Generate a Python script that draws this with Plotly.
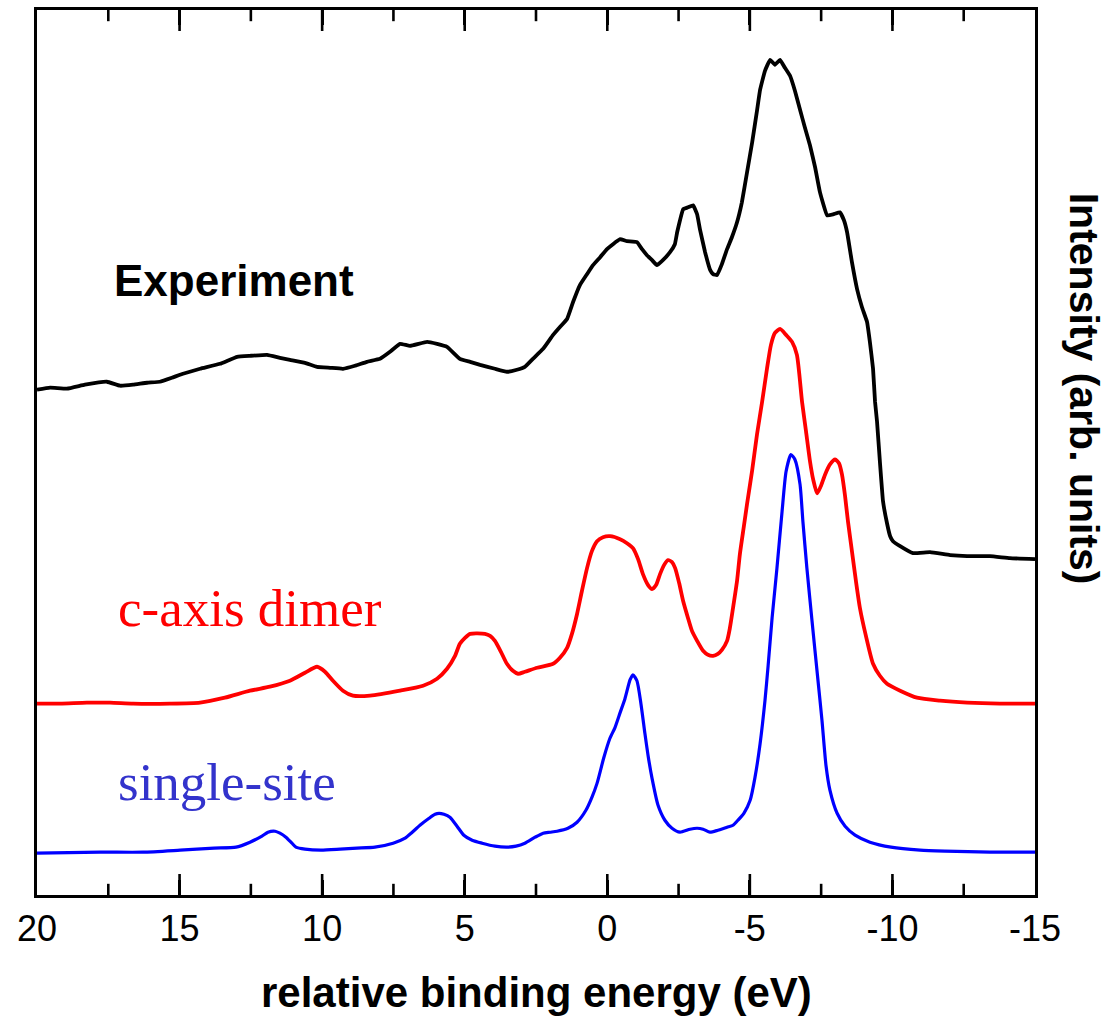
import plotly.graph_objects as go

# ---------------- data (energy in eV, intensity in arb. units) ----------------
exp_energy = [20.00, 19.54, 18.95, 18.32, 17.55, 17.09, 16.63, 16.14, 15.69, 15.27,
              14.88, 14.28, 13.58, 12.98, 12.53, 11.93, 11.48, 11.13, 10.60, 10.18,
              9.72, 9.27, 8.85, 8.43, 7.97, 7.62, 7.27, 6.92, 6.32, 5.97,
              5.62, 5.17, 4.81, 4.46, 3.94, 3.52, 3.17, 2.89, 2.61, 2.25,
              1.90, 1.66, 1.41, 1.20, 0.96, 0.71, 0.50, 0.25, 0.01, -0.20,
              -0.45, -0.69, -1.04, -1.22, -1.39, -1.57, -1.74, -1.95, -2.20, -2.37,
              -2.45, -2.55, -2.66, -2.83, -3.01, -3.15, -3.25, -3.43, -3.61, -3.71,
              -3.85, -4.02, -4.20, -4.37, -4.55, -4.72, -4.90, -5.08, -5.25, -5.36,
              -5.53, -5.71, -5.88, -6.06, -6.23, -6.41, -6.58, -6.76, -6.93, -7.11,
              -7.29, -7.46, -7.71, -7.92, -8.16, -8.30, -8.41, -8.58, -8.76, -8.93,
              -9.11, -9.21, -9.32, -9.39, -9.46, -9.56, -9.67, -9.81, -9.92, -10.02,
              -10.27, -10.72, -11.32, -12.02, -12.62, -13.42, -14.12, -15.00]
exp_intensity = [5.07, 5.09, 5.08, 5.12, 5.15, 5.11, 5.12, 5.14, 5.15, 5.19,
                 5.23, 5.28, 5.33, 5.40, 5.41, 5.42, 5.39, 5.37, 5.34, 5.30,
                 5.29, 5.28, 5.31, 5.35, 5.38, 5.45, 5.53, 5.51, 5.55, 5.53,
                 5.50, 5.38, 5.35, 5.32, 5.28, 5.25, 5.27, 5.30, 5.38, 5.48,
                 5.62, 5.70, 5.78, 5.95, 6.12, 6.23, 6.32, 6.40, 6.48, 6.53,
                 6.58, 6.56, 6.55, 6.48, 6.42, 6.37, 6.32, 6.37, 6.45, 6.53,
                 6.65, 6.77, 6.88, 6.90, 6.92, 6.83, 6.68, 6.45, 6.27, 6.23,
                 6.22, 6.33, 6.48, 6.60, 6.75, 6.95, 7.25, 7.55, 7.87, 8.08,
                 8.27, 8.38, 8.33, 8.38, 8.30, 8.22, 8.07, 7.88, 7.70, 7.52,
                 7.30, 7.05, 6.82, 6.83, 6.85, 6.77, 6.65, 6.35, 6.08, 5.90,
                 5.75, 5.55, 5.28, 4.95, 4.75, 4.35, 3.95, 3.73, 3.60, 3.55,
                 3.50, 3.43, 3.44, 3.41, 3.40, 3.40, 3.38, 3.37]

dimer_energy = [20.00, 19.19, 18.25, 17.44, 16.63, 15.34, 14.28, 13.41, 12.53, 11.83,
                11.13, 10.60, 10.18, 9.90, 9.62, 9.27, 8.92, 8.32, 7.27, 6.46,
                5.97, 5.62, 5.34, 5.17, 4.99, 4.81, 4.29, 4.11, 3.94, 3.73,
                3.52, 3.31, 3.13, 2.89, 2.46, 1.90, 1.66, 1.41, 1.24, 1.06,
                0.89, 0.71, 0.54, 0.36, 0.15, -0.10, -0.45, -0.69, -0.90, -1.08,
                -1.25, -1.43, -1.57, -1.71, -1.85, -1.99, -2.13, -2.27, -2.38, -2.52,
                -2.66, -2.83, -2.97, -3.15, -3.36, -3.53, -3.71, -3.88, -4.02, -4.20,
                -4.30, -4.41, -4.55, -4.65, -4.79, -4.90, -5.08, -5.25, -5.43, -5.60,
                -5.74, -5.88, -6.06, -6.27, -6.48, -6.65, -6.83, -6.97, -7.11,
                -7.22, -7.36, -7.50, -7.64, -7.81, -7.99, -8.13, -8.23, -8.34, -8.44,
                -8.58, -8.72, -8.86, -9.07, -9.32, -9.56, -9.81, -10.27, -10.86, -11.67,
                -12.62, -13.77, -15.00]
dimer_intensity = [1.92, 1.92, 1.93, 1.93, 1.92, 1.92, 1.93, 1.98, 2.05, 2.09,
                   2.15, 2.23, 2.29, 2.24, 2.15, 2.05, 2.00, 2.00, 2.05, 2.10,
                   2.17, 2.27, 2.40, 2.52, 2.58, 2.62, 2.62, 2.60, 2.55, 2.44,
                   2.32, 2.25, 2.22, 2.24, 2.28, 2.32, 2.38, 2.48, 2.62, 2.82,
                   3.05, 3.28, 3.45, 3.55, 3.59, 3.60, 3.57, 3.53, 3.48, 3.37,
                   3.22, 3.11, 3.07, 3.11, 3.22, 3.31, 3.36, 3.34, 3.28, 3.13,
                   2.95, 2.78, 2.65, 2.55, 2.45, 2.41, 2.40, 2.42, 2.46, 2.55,
                   2.68, 2.88, 3.15, 3.42, 3.70, 3.92, 4.26, 4.62, 4.95, 5.28,
                   5.52, 5.64, 5.68, 5.62, 5.55, 5.42, 4.95, 4.65, 4.35,
                   4.17, 4.03, 4.11, 4.22, 4.32, 4.37, 4.33, 4.22, 4.00, 3.75,
                   3.45, 3.15, 2.88, 2.60, 2.32, 2.20, 2.12, 2.05, 1.98, 1.95,
                   1.93, 1.92, 1.92]

single_energy = [20.00, 17.79, 16.28, 14.98, 13.79, 13.02, 12.53, 12.11, 11.90, 11.65,
                 11.48, 11.27, 11.06, 10.92, 10.60, 10.04, 9.37, 8.78, 8.15, 7.51,
                 7.09, 6.88, 6.57, 6.25, 6.04, 5.90, 5.73, 5.52, 5.27, 5.03,
                 4.74, 4.39, 3.94, 3.52, 3.20, 2.89, 2.53, 2.25, 2.01, 1.76,
                 1.38, 1.06, 0.75, 0.54, 0.36, 0.12, -0.09, -0.27, -0.45, -0.62,
                 -0.80, -0.90, -1.04, -1.18, -1.32, -1.43, -1.57, -1.78, -2.02, -2.27,
                 -2.55, -2.90, -3.15, -3.36, -3.60, -3.88, -4.20, -4.41, -4.58, -4.79,
                 -5.01, -5.18, -5.36, -5.53, -5.64, -5.78, -5.95, -6.13, -6.27, -6.44,
                 -6.58, -6.76, -6.86, -7.00, -7.18, -7.39, -7.53, -7.67, -7.81, -8.06,
                 -8.34, -8.69, -9.21, -9.95, -10.97, -11.84, -13.42, -15.00]
single_intensity = [0.42, 0.43, 0.43, 0.45, 0.47, 0.48, 0.53, 0.59, 0.63, 0.64,
                    0.62, 0.58, 0.52, 0.48, 0.46, 0.45, 0.46, 0.47, 0.48, 0.52,
                    0.57, 0.62, 0.70, 0.77, 0.81, 0.82, 0.81, 0.78, 0.69, 0.60,
                    0.55, 0.52, 0.49, 0.48, 0.49, 0.52, 0.58, 0.62, 0.63, 0.64,
                    0.67, 0.73, 0.85, 0.98, 1.12, 1.38, 1.57, 1.68, 1.83, 1.97,
                    2.16, 2.21, 2.15, 1.92, 1.62, 1.40, 1.17, 0.90, 0.75, 0.67,
                    0.63, 0.66, 0.67, 0.66, 0.63, 0.65, 0.68, 0.70, 0.75, 0.82,
                    0.95, 1.18, 1.52, 1.95, 2.30, 2.78, 3.28, 3.85, 4.25, 4.42,
                    4.37, 4.12, 3.75, 3.28, 2.75, 2.15, 1.75, 1.30, 1.05, 0.82,
                    0.69, 0.60, 0.53, 0.48, 0.45, 0.44, 0.43, 0.43]

x_tick_values = [20, 15, 10, 5, 0, -5, -10, -15]
x_tick_labels = ["20", "15", "10", "5", "0", "-5", "-10", "-15"]
x_inner_major = [15, 10, 5, 0, -5, -10]
x_minor_ticks = [17.5, 12.5, 7.5, 2.5, -2.5, -7.5, -12.5]

# ---------------- figure ----------------
L, R, T, B = 37, 78, 7, 125
Y_MAX = 8.88

fig = go.Figure()

fig.add_trace(go.Scatter(x=exp_energy, y=exp_intensity, mode="lines",
                         line=dict(color="black", width=3.8, shape="spline", smoothing=0.3),
                         showlegend=False))
fig.add_trace(go.Scatter(x=dimer_energy, y=dimer_intensity, mode="lines",
                         line=dict(color="#ff0000", width=3.8, shape="spline", smoothing=0.6),
                         showlegend=False))
fig.add_trace(go.Scatter(x=single_energy, y=single_intensity, mode="lines",
                         line=dict(color="#0000ff", width=3.2, shape="spline", smoothing=0.6),
                         showlegend=False))

# inward tick marks drawn as vertical line markers centred on the frame (outer half clipped)
for vals, size in ((x_inner_major, 30), (x_minor_ticks, 16)):
    fig.add_trace(go.Scatter(
        x=vals + vals, y=[0] * len(vals) + [Y_MAX] * len(vals), mode="markers",
        marker=dict(symbol="line-ns", size=size, line=dict(color="black", width=2.6)),
        cliponaxis=True, showlegend=False, hoverinfo="skip"))

fig.update_layout(
    width=1113, height=1020,
    margin=dict(l=L, r=R, t=T, b=B),
    paper_bgcolor="white", plot_bgcolor="white",
    showlegend=False,
    xaxis=dict(
        range=[20, -15], tickmode="array", tickvals=x_tick_values, ticktext=x_tick_labels,
        ticks="inside", ticklen=15, tickwidth=2.5, tickcolor="black",
        showline=True, linewidth=2.5, linecolor="black", mirror="allticks",
        showgrid=False, zeroline=False,
        tickfont=dict(family="Liberation Sans, Arial", size=36, color="black"),
    ),
    yaxis=dict(
        range=[0, Y_MAX], showline=True, linewidth=2.5, linecolor="black", mirror=True,
        ticks="", showticklabels=False, showgrid=False, zeroline=False,
    ),
)

fig.add_annotation(text="<b>Experiment</b>", xref="paper", yref="paper",
                   x=(112 - L) / 998, y=(895 - 278) / 888, xanchor="left", yanchor="middle",
                   showarrow=False, font=dict(family="Liberation Sans, Arial", size=44, color="black"))
fig.add_annotation(text="c-axis dimer", xref="paper", yref="paper",
                   x=(116 - L) / 998, y=(895 - 607) / 888, xanchor="left", yanchor="middle",
                   showarrow=False, font=dict(family="Liberation Serif, Times New Roman", size=53, color="#ff0000"))
fig.add_annotation(text="single-site", xref="paper", yref="paper",
                   x=(116 - L) / 998, y=(895 - 782) / 888, xanchor="left", yanchor="middle",
                   showarrow=False, font=dict(family="Liberation Serif, Times New Roman", size=53, color="#3333cc"))
fig.add_annotation(text="<b>Intensity (arb. units)</b>", xref="paper", yref="paper",
                   x=(1084 - L) / 998, y=(895 - 387) / 888, xanchor="center", yanchor="middle",
                   textangle=90, showarrow=False,
                   font=dict(family="Liberation Sans, Arial", size=41, color="black"))
fig.add_annotation(text="<b>relative binding energy (eV)</b>", xref="paper", yref="paper",
                   x=(536 - L) / 998, y=(895 - 993) / 888, xanchor="center", yanchor="middle",
                   showarrow=False, font=dict(family="Liberation Sans, Arial", size=42, color="black"))

fig.write_html("out.html")
